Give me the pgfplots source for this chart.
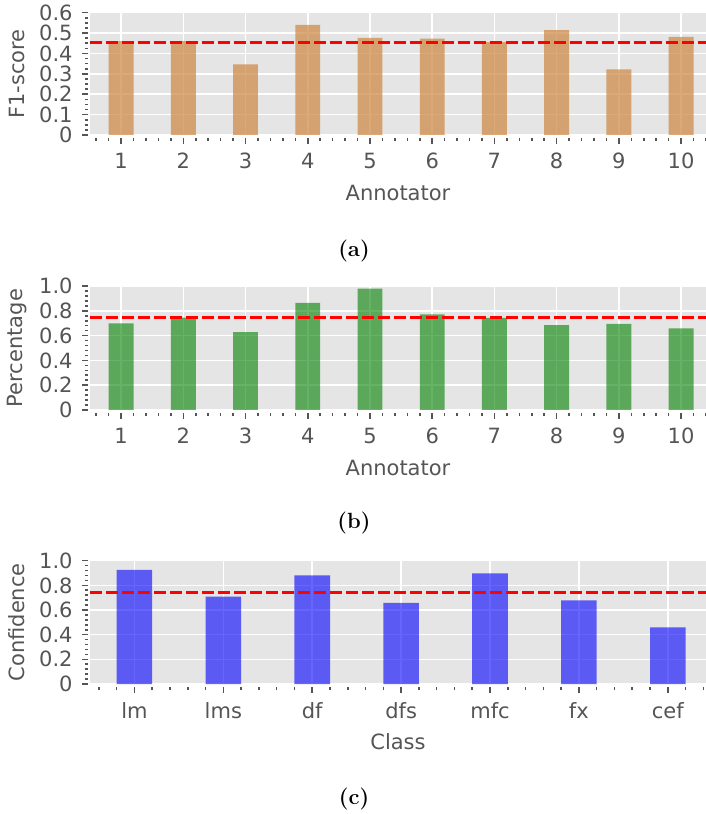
\documentclass[border=0pt]{standalone}
\usepackage{fontspec}
\usepackage{pgfplots}
\pgfplotsset{compat=1.18}
\newfontfamily\dejavu{DejaVu Sans}
\definecolor{bg}{HTML}{E5E5E5}
\definecolor{txt}{HTML}{555555}
\definecolor{peru}{HTML}{CD853F}
\definecolor{mgreen}{HTML}{008000}
\definecolor{mblue}{HTML}{0000FF}
\pgfplotsset{
 ggstyle/.style={
  scale only axis, width=308pt, anchor=south west,
  axis background/.style={fill=bg},
  axis line style={draw=none},
  grid=major, grid style={white, line width=0.75pt},
  tick align=outside, tick pos=left,
  major tick length=3pt, minor tick length=1.6pt,
  major tick style={txt, line width=0.8pt},
  minor tick style={txt, line width=0.8pt},
  xtick style={yshift=-1.5pt},
  ytick style={xshift=-1pt},
  ticklabel style={font=\dejavu\fontsize{10.5}{12}\selectfont, text=txt, inner sep=0pt},
  xticklabel style={anchor=base, yshift=-14pt},
  yticklabel style={anchor=east, xshift=-5.5pt},
  every axis x label/.style={at={(axis description cs:0.5,0)}, anchor=center, yshift=-29pt, font=\dejavu\fontsize{10.5}{12}\selectfont, text=txt},
  every axis y label/.style={at={(axis description cs:-0.1185,0.5)}, anchor=center, rotate=90, font=\dejavu\fontsize{10.5}{12}\selectfont, text=txt},
  ymin=0,
 }
}
\begin{document}
\begin{tikzpicture}
\useasboundingbox (0,0) rectangle (353pt,407pt);
% (a)
\begin{axis}[ggstyle, at={(45pt,339.5pt)}, height=61.15pt,
  xmin=0.5, xmax=10.4, ymax=0.6,
  xtick={1,...,10}, xticklabels={1,2,3,4,5,6,7,8,9,10},
  minor xtick={0.6,0.8,1.2,1.4,1.6,1.8,2.2,2.4,2.6,2.8,3.2,3.4,3.6,3.8,4.2,4.4,4.6,4.8,5.2,5.4,5.6,5.8,6.2,6.4,6.6,6.8,7.2,7.4,7.6,7.8,8.2,8.4,8.6,8.8,9.2,9.4,9.6,9.8,10.2,10.4},
  ytick={0,0.1,0.2,0.3,0.4,0.5,0.6}, yticklabels={0,0.1,0.2,0.3,0.4,0.5,0.6},
  minor y tick num=3,
  xlabel={Annotator}, ylabel={F1-score}]
\addplot[ybar, bar width=0.4, fill=peru, fill opacity=0.7, draw=none] coordinates {
(1,0.461) (2,0.460) (3,0.347) (4,0.540) (5,0.476) (6,0.473) (7,0.456) (8,0.515) (9,0.322) (10,0.481)};
\addplot[red, line width=1.25pt, dash pattern=on 6pt off 2pt] coordinates {(0.5,0.455) (10.4,0.455)};
\end{axis}
% (b)
\begin{axis}[ggstyle, at={(45pt,202pt)}, height=62pt,
  xmin=0.5, xmax=10.4, ymax=1.0,
  xtick={1,...,10}, xticklabels={1,2,3,4,5,6,7,8,9,10},
  minor xtick={0.6,0.8,1.2,1.4,1.6,1.8,2.2,2.4,2.6,2.8,3.2,3.4,3.6,3.8,4.2,4.4,4.6,4.8,5.2,5.4,5.6,5.8,6.2,6.4,6.6,6.8,7.2,7.4,7.6,7.8,8.2,8.4,8.6,8.8,9.2,9.4,9.6,9.8,10.2,10.4},
  ytick={0,0.2,0.4,0.6,0.8,1.0}, yticklabels={0,0.2,0.4,0.6,0.8,1.0},
  minor y tick num=4,
  xlabel={Annotator}, ylabel={Percentage}]
\addplot[ybar, bar width=0.4, fill=mgreen, fill opacity=0.6, draw=none] coordinates {
(1,0.699) (2,0.745) (3,0.627) (4,0.863) (5,0.978) (6,0.772) (7,0.742) (8,0.685) (9,0.694) (10,0.659)};
\addplot[red, line width=1.25pt, dash pattern=on 6pt off 2pt] coordinates {(0.5,0.745) (10.4,0.745)};
\end{axis}
% (c)
\begin{axis}[ggstyle, at={(45pt,65pt)}, height=61.65pt,
  xmin=-0.5, xmax=6.43, ymax=1.0,
  xtick={0,...,6}, xticklabels={lm,lms,df,dfs,mfc,fx,cef},
  minor xtick={-0.4,-0.2,0.2,0.4,0.6,0.8,1.2,1.4,1.6,1.8,2.2,2.4,2.6,2.8,3.2,3.4,3.6,3.8,4.2,4.4,4.6,4.8,5.2,5.4,5.6,5.8,6.2,6.4},
  ytick={0,0.2,0.4,0.6,0.8,1.0}, yticklabels={0,0.2,0.4,0.6,0.8,1.0},
  minor y tick num=4,
  xlabel={Class}, ylabel={Confidence}]
\addplot[ybar, bar width=0.4, fill=mblue, fill opacity=0.6, draw=none] coordinates {
(0,0.925) (1,0.708) (2,0.881) (3,0.657) (4,0.898) (5,0.679) (6,0.460)};
\addplot[red, line width=1.25pt, dash pattern=on 6pt off 2pt] coordinates {(-0.5,0.743) (6.43,0.743)};
\end{axis}
\node[font=\fontsize{11}{13}\selectfont\bfseries] at (177pt,281.5pt) {(a)};
\node[font=\fontsize{11}{13}\selectfont\bfseries] at (177pt,145.5pt) {(b)};
\node[font=\fontsize{11}{13}\selectfont\bfseries] at (177pt,7.5pt) {(c)};
\end{tikzpicture}
\end{document}
